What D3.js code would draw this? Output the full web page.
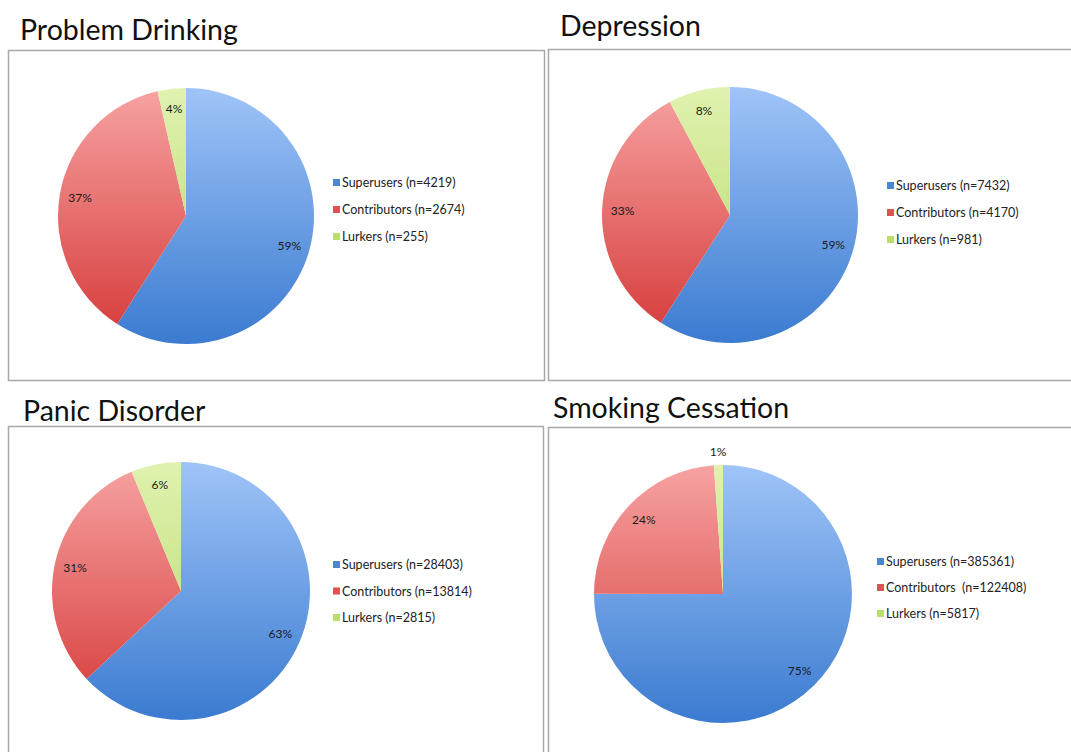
<!DOCTYPE html>
<html>
<head>
<meta charset="utf-8">
<script src="https://cdn.jsdelivr.net/npm/d3@7"></script>
<style>
  body { margin: 0; background: #fff; }
  svg { display: block; }
</style>
</head>
<body>
<svg id="chart" width="1071" height="752"></svg>
<script>
// ------------- DATA ------------- //
var titles = ["Problem Drinking", "Depression", "Panic Disorder", "Smoking Cessation"];
var groups = ["Superusers", "Contributors", "Lurkers"];
var drinking = [4219, 2674, 255];
var depression = [7432, 4170, 981];
var panic = [28403, 13814, 2815];
var smoking = [385361, 122408, 5817];
var allCounts = [drinking, depression, panic, smoking];
// the smoking legend has an extra space after "Contributors"
var legendGap = [" ", " ", " ", "  "];

// ------------- LAYOUT ------------- //
var panels = [
  { box: [8, 50, 536, 330], title: [20, 40], cx: 186, cy: 216, r: 128, legX: 333, legY: 183, legStep: 27 },
  { box: [548, 49, 530, 331], title: [560, 36], cx: 730, cy: 215, r: 128, legX: 887, legY: 186, legStep: 27 },
  { box: [8, 426, 535, 340], title: [23, 421], cx: 181, cy: 591, r: 129, legX: 333, legY: 565, legStep: 26.5 },
  { box: [548, 427, 530, 340], title: [553, 418], cx: 723, cy: 594, r: 129, legX: 877, legY: 562, legStep: 26 }
];

var colors = [
  ["#9fc4f8", "#3b7bd0"],
  ["#f6a3a2", "#d53938"],
  ["#e0f2b0", "#b3d866"]
];
var legendColors = ["#4a86d6", "#e05250", "#b9de70"];

var svg = d3.select("#chart");
var defs = svg.append("defs");

var blur = defs.append("filter").attr("id", "soft").attr("x", "-10%").attr("y", "-10%").attr("width", "120%").attr("height", "120%");
blur.append("feGaussianBlur").attr("stdDeviation", 0.6);

var pie = d3.pie().sort(null).value(function(d) { return d; });

panels.forEach(function(p, i) {
  var counts = allCounts[i];
  var total = d3.sum(counts);

  // frame
  svg.append("rect")
    .attr("x", p.box[0] + 0.5).attr("y", p.box[1] + 0.5)
    .attr("width", p.box[2]).attr("height", p.box[3])
    .attr("fill", "#fff").attr("stroke", "#a8a8a8").attr("stroke-width", 1.5);

  svg.append("text")
    .attr("x", p.title[0]).attr("y", p.title[1])
    .attr("font-family", "Lato, 'Open Sans', sans-serif")
    .attr("font-size", 28.5)
    .attr("fill", "#111")
    .text(titles[i]);

  var g = svg.append("g").attr("transform", "translate(" + p.cx + "," + p.cy + ")");

  // vertical shading per colour, spanning the whole pie
  colors.forEach(function(c, k) {
    var grad = defs.append("linearGradient")
      .attr("id", "grad" + i + "_" + k)
      .attr("gradientUnits", "userSpaceOnUse")
      .attr("x1", 0).attr("y1", -p.r).attr("x2", 0).attr("y2", p.r);
    grad.append("stop").attr("offset", "0%").attr("stop-color", c[0]);
    grad.append("stop").attr("offset", "100%").attr("stop-color", c[1]);
  });

  var arc = d3.arc().innerRadius(0).outerRadius(p.r);
  var labelArc = d3.arc().innerRadius(p.r * 0.84).outerRadius(p.r * 0.84);
  var outArc = d3.arc().innerRadius(p.r + 13).outerRadius(p.r + 13);

  var arcs = pie(counts);

  g.selectAll("path")
    .data(arcs)
    .enter().append("path")
    .attr("d", arc)
    .attr("fill", function(d, k) { return "url(#grad" + i + "_" + k + ")"; })
    .attr("filter", "url(#soft)");

  g.selectAll("text")
    .data(arcs)
    .enter().append("text")
    .attr("transform", function(d) {
      var share = d.value / total;
      var pos = share < 0.02 ? outArc.centroid(d) : labelArc.centroid(d);
      return "translate(" + pos + ")";
    })
    .attr("text-anchor", "middle")
    .attr("dy", "0.35em")
    .attr("font-family", "Lato, 'Open Sans', sans-serif")
    .attr("font-size", 12)
    .attr("fill", "#1a1a1a")
    .text(function(d) { return Math.round(d.value / total * 100) + "%"; });

  // legend
  var leg = svg.append("g").attr("transform", "translate(" + p.legX + "," + p.legY + ")");
  groups.forEach(function(name, k) {
    var row = leg.append("g").attr("transform", "translate(0," + (k * p.legStep) + ")");
    row.append("rect")
      .attr("x", 0).attr("y", -4)
      .attr("width", 7).attr("height", 7)
      .attr("fill", legendColors[k]);
    row.append("text")
      .attr("x", 9).attr("y", 0)
      .attr("dy", "0.35em")
      .attr("font-family", "Lato, 'Open Sans', sans-serif")
      .attr("font-size", 12.5)
      .attr("fill", "#222")
      .style("white-space", "pre")
      .text(name + (k == 1 ? legendGap[i] : " ") + "(n=" + counts[k] + ")");
  });
});
</script>
</body>
</html>
